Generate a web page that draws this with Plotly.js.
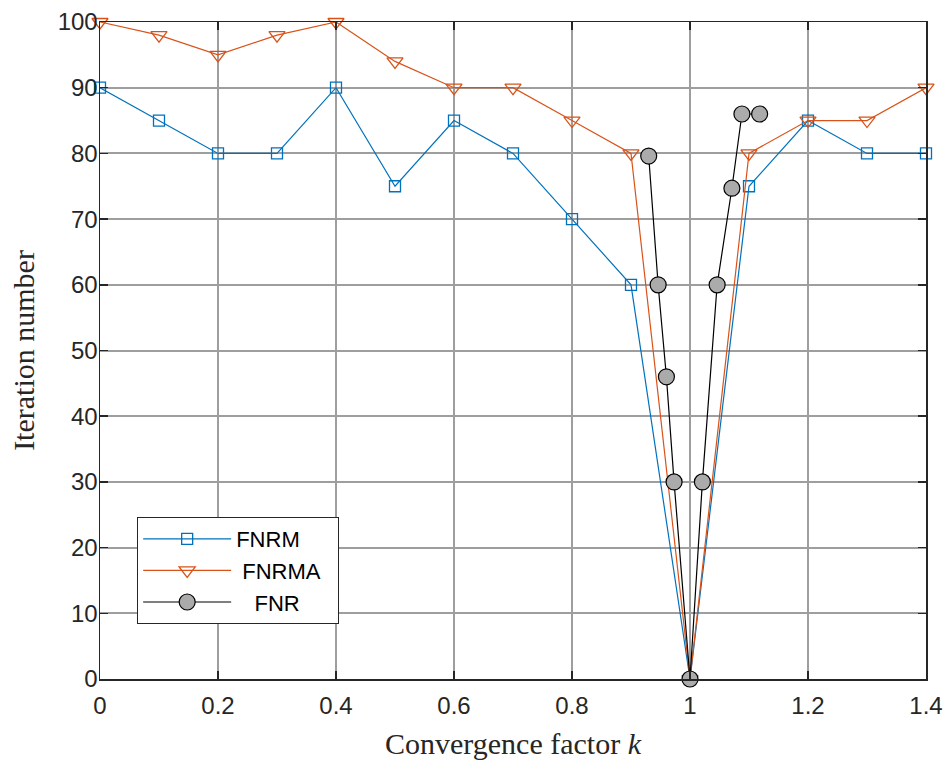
<!DOCTYPE html>
<html>
<head>
<meta charset="utf-8">
<script src="https://cdn.plot.ly/plotly-3.0.1.min.js"></script>
<style>html,body{margin:0;padding:0;background:#fff;}#chart{width:951px;height:760px;}</style>
</head>
<body>
<div id="chart"></div>
<script>
// FNRM
var fnrmK = [0, 0.1, 0.2, 0.3, 0.4, 0.5, 0.6, 0.7, 0.8, 0.9, 1.0, 1.1, 1.2, 1.3, 1.4];
var fnrmIter = [90, 85, 80, 80, 90, 75, 85, 80, 70, 60, 0, 75, 85, 80, 80];
// FNRMA
var fnrmaK = [0, 0.1, 0.2, 0.3, 0.4, 0.5, 0.6, 0.7, 0.8, 0.9, 1.0, 1.1, 1.2, 1.3, 1.4];
var fnrmaIter = [100, 98, 95, 98, 100, 94, 90, 90, 85, 80, 0, 80, 85, 85, 90];
// FNR
var fnrK = [0.93, 0.946, 0.96, 0.973, 1.0, 1.021, 1.046, 1.071, 1.088, 1.118];
var fnrIter = [79.6, 60, 46, 30, 0, 30, 60, 74.7, 86, 86];

var seriesNames = ['FNRM', '\u00a0FNRMA\u00a0\u00a0', '\u00a0\u00a0\u00a0FNR'];
var xTickVals = [0, 0.2, 0.4, 0.6, 0.8, 1, 1.2, 1.4];
var xTickText = ['0', '0.2', '0.4', '0.6', '0.8', '1', '1.2', '1.4'];
var yTickVals = [0, 10, 20, 30, 40, 50, 60, 70, 80, 90, 100];

var traces = [
  {x: fnrmK, y: fnrmIter, name: seriesNames[0], type: 'scatter', mode: 'lines+markers', cliponaxis: false,
   line: {color: '#0072BD', width: 1.2},
   marker: {symbol: 'square-open', size: 11, color: '#0072BD', line: {width: 1.3, color: '#0072BD'}}},
  {x: fnrmaK, y: fnrmaIter, name: seriesNames[1], type: 'scatter', mode: 'lines+markers', cliponaxis: false,
   line: {color: '#D95319', width: 1.2},
   marker: {symbol: 'triangle-down-open', size: 14, color: '#D95319', line: {width: 1.3, color: '#D95319'}}},
  {x: fnrK, y: fnrIter, name: seriesNames[2], type: 'scatter', mode: 'lines+markers', cliponaxis: false,
   line: {color: '#000000', width: 1.2},
   marker: {symbol: 'circle', size: 16, color: '#ababab', line: {width: 1.2, color: '#000000'}}}
];

var axisCommon = {
  showline: true, linecolor: '#262626', linewidth: 1.5, mirror: 'ticks',
  ticks: 'inside', ticklen: 8, tickwidth: 1.5, tickcolor: '#262626',
  showgrid: true, gridcolor: '#9e9e9e', gridwidth: 2,
  zeroline: false,
  tickfont: {family: 'Liberation Sans, Arial, sans-serif', size: 24, color: '#262626'}
};

var layout = {
  width: 951, height: 760,
  margin: {l: 100, r: 25, t: 22, b: 81},
  paper_bgcolor: '#ffffff', plot_bgcolor: '#ffffff',
  showlegend: true,
  xaxis: Object.assign({}, axisCommon, {
    range: [0, 1.4], tickmode: 'array', tickvals: xTickVals, ticktext: xTickText,
    ticklabelstandoff: 5,
    title: {text: 'Convergence factor <i>k</i>', standoff: 15,
            font: {family: 'Liberation Serif, Times New Roman, serif', size: 30, color: '#262626'}}
  }),
  yaxis: Object.assign({}, axisCommon, {
    range: [0, 100], tickmode: 'array', tickvals: yTickVals,
    ticklabelstandoff: -4,
    title: {text: 'Iteration number', standoff: 14,
            font: {family: 'Liberation Serif, Times New Roman, serif', size: 30, color: '#262626'}}
  }),
  legend: {
    x: 0.045, y: 0.2466, xanchor: 'left', yanchor: 'top',
    bgcolor: '#ffffff', bordercolor: '#262626', borderwidth: 1,
    itemwidth: 88, tracegroupgap: 0,
    font: {family: 'Liberation Sans, Arial, sans-serif', size: 22, color: '#000000'}
  }
};

Plotly.newPlot('chart', traces, layout, {displayModeBar: false, staticPlot: true});
</script>
</body>
</html>
